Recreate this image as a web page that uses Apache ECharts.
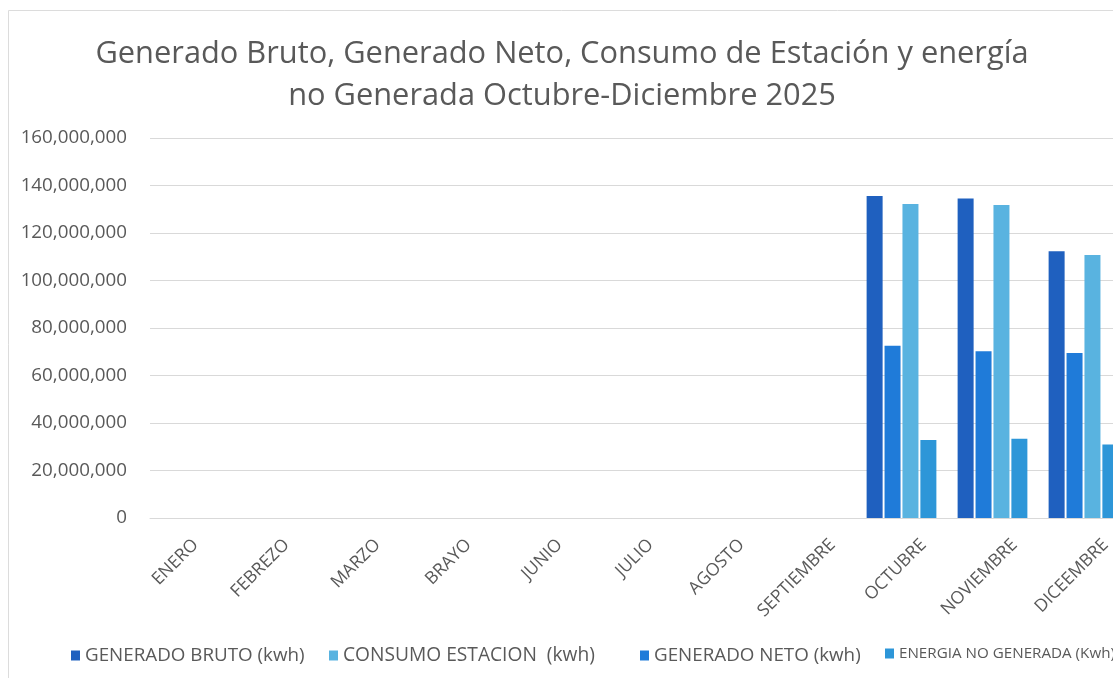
<!DOCTYPE html>
<html>
<head>
<meta charset="utf-8">
<title>Generado Bruto, Generado Neto, Consumo de Estación y energía no Generada</title>
<script src="https://cdn.jsdelivr.net/npm/echarts@6/dist/echarts.min.js"></script>
<style>
  html, body { margin: 0; padding: 0; background: #ffffff; }
  #chart { width: 1113px; height: 678px; }
</style>
</head>
<body>
<div id="chart"></div>
<script>
  const months = ["ENERO", "FEBREZO", "MARZO", "BRAYO", "JUNIO", "JULIO", "AGOSTO", "SEPTIEMBRE", "OCTUBRE", "NOVIEMBRE", "DICEEMBRE"];

  const brutoName = "GENERADO BRUTO (kwh)";
  const netoName = "GENERADO NETO (kwh)";
  const consumoName = "CONSUMO ESTACION  (kwh)";
  const noGenName = "ENERGIA NO GENERADA (Kwh)";

  // only Oct-Dec have data, the rest are blank in the sheet
  const generadoBruto = [null, null, null, null, null, null, null, null, 135600000, 134500000, 112300000];
  const generadoNeto = [null, null, null, null, null, null, null, null, 72500000, 70200000, 69500000];
  const consumoEstacion = [null, null, null, null, null, null, null, null, 132200000, 131800000, 110700000];
  const energiaNoGenerada = [null, null, null, null, null, null, null, null, 32800000, 33400000, 31000000];

  const yTicks = { min: 0, max: 160000000, interval: 20000000 };

  const grey = "#595959";
  const font = "'Open Sans', 'Noto Sans', sans-serif";

  const chart = echarts.init(document.getElementById("chart"), null, { renderer: "canvas" });

  // grid 0 carries the axes and labels, grid 1 the bars (Excel shifted the groups left)
  const grids = [
    { left: 150, right: -38, top: 138, bottom: 160, outerBoundsMode: "none", containLabel: false },
    { left: 128, right: -16, top: 138, bottom: 160, outerBoundsMode: "none", containLabel: false }
  ];

  const barSeries = (name, data, color) => ({
    name,
    type: "bar",
    xAxisIndex: 1,
    yAxisIndex: 1,
    data,
    barWidth: 16,
    barGap: "12%",
    itemStyle: { color },
    emphasis: { disabled: true }
  });

  // one legend per entry so the uneven spacing of the original can be kept
  const legendItem = (name, left, fontSize) => ({
    left,
    top: 641,
    icon: "rect",
    itemWidth: 9,
    itemHeight: 10,
    itemGap: 0,
    textStyle: { fontFamily: font, fontSize, color: grey },
    data: [name]
  });

  chart.setOption({
    animation: false,
    backgroundColor: "#ffffff",
    textStyle: { fontFamily: font },
    graphic: [
      {
        type: "rect",
        shape: { x: 8.5, y: 10.5, width: 1200, height: 700 },
        style: { fill: "none", stroke: "#dcdcdc", lineWidth: 1 },
        silent: true
      }
    ],
    title: {
      text: "Generado Bruto, Generado Neto, Consumo de Estación y energía\nno Generada Octubre-Diciembre 2025",
      left: 557,
      textAlign: "center",
      top: 28,
      textStyle: {
        fontFamily: font,
        fontSize: 30.8,
        fontWeight: "normal",
        color: grey,
        lineHeight: 42
      }
    },
    legend: [
      legendItem(brutoName, 66, 18.8),
      legendItem(consumoName, 324, 19.2),
      legendItem(netoName, 635, 18.8),
      legendItem(noGenName, 880, 15.2)
    ],
    grid: grids,
    xAxis: [
      {
        type: "category",
        gridIndex: 0,
        data: months,
        axisLine: { lineStyle: { color: "#d9d9d9" } },
        axisTick: { show: false },
        axisLabel: {
          rotate: 45,
          margin: 24,
          interval: 0,
          fontFamily: font,
          fontSize: 17.5,
          color: grey
        }
      },
      {
        type: "category",
        gridIndex: 1,
        data: months,
        show: false
      }
    ],
    yAxis: [
      {
        type: "value",
        gridIndex: 0,
        min: yTicks.min,
        max: yTicks.max,
        interval: yTicks.interval,
        axisLine: { show: false },
        axisTick: { show: false },
        splitLine: { lineStyle: { color: "#d9d9d9", width: 1 } },
        axisLabel: {
          margin: 23,
          fontFamily: font,
          fontSize: 18.8,
          color: grey,
          formatter: (v) => v.toLocaleString("en-US")
        }
      },
      {
        type: "value",
        gridIndex: 1,
        min: yTicks.min,
        max: yTicks.max,
        interval: yTicks.interval,
        show: false
      }
    ],
    series: [
      barSeries(brutoName, generadoBruto, "#1f60bf"),
      barSeries(netoName, generadoNeto, "#1f7bd9"),
      barSeries(consumoName, consumoEstacion, "#59b3e0"),
      barSeries(noGenName, energiaNoGenerada, "#2d96d8")
    ]
  });
</script>
</body>
</html>
